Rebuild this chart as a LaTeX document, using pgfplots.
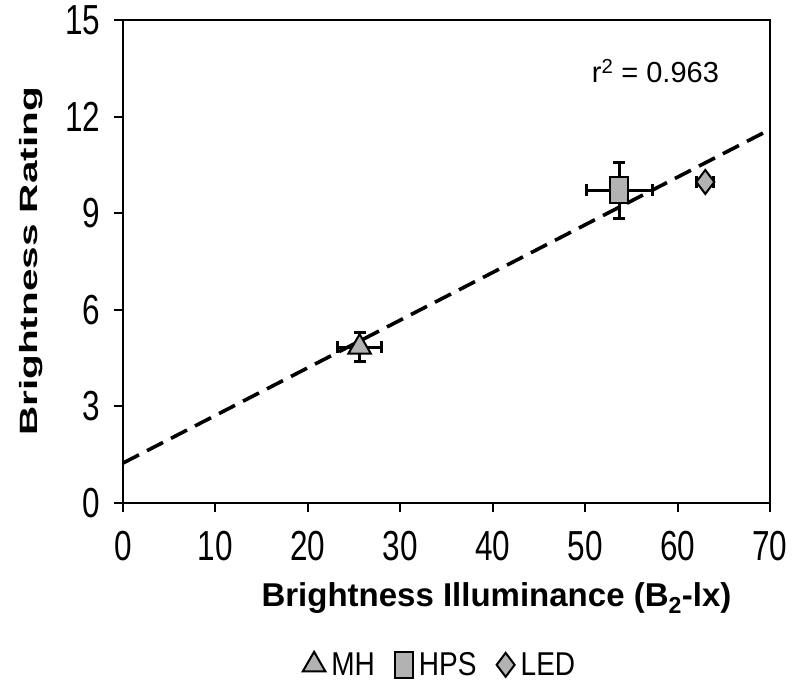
\documentclass[border=0pt]{standalone}
\usepackage{pgfplots}
\pgfplotsset{compat=1.18}
\usepackage{fontspec}
\setmainfont{Liberation Sans}
\newfontfamily\narrowfont[FakeStretch=0.75]{Liberation Sans}
\newfontfamily\legendfont[FakeStretch=0.85]{Liberation Sans}
\newfontfamily\widefont[FakeStretch=1.62]{Liberation Sans}
\definecolor{markgray}{HTML}{B2B2B2}

\pgfplotsset{
  every error bar/.style={line width=3pt, black},
}

\begin{document}
\begin{tikzpicture}
% fixed page frame: 803 x 689
\path[use as bounding box] (-123pt,-186pt) rectangle (680pt,503pt);
\begin{axis}[
  scale only axis,
  width=647pt, height=483pt,
  xmin=0, xmax=70, ymin=0, ymax=15,
  xtick={0,10,...,70}, ytick={0,3,...,15},
  tick align=outside,
  major tick length=9pt,
  axis line style={line width=2.2pt},
  every tick/.style={black, line width=2pt},
  xtick pos=bottom, ytick pos=left,
  /pgf/number format/assume math mode=true,
  ticklabel style={font=\narrowfont\fontsize{42}{42}\selectfont},
  xticklabel style={yshift=-16pt},
  yticklabel style={xshift=-10pt},
  xlabel={\bfseries\fontsize{33}{33}\selectfont Brightness Illuminance (B$_{\mathbf 2}$-lx)},
  ylabel={\widefont\bfseries\fontsize{25}{25}\selectfont Brightness Rating},
  xlabel style={yshift=-14pt, xshift=50pt},
  ylabel style={yshift=16pt},
  legend columns=3,
  legend style={draw=none, at={(0.49,-0.335)}, anchor=center,
    font=\legendfont\fontsize{33}{33}\selectfont,
    /tikz/every odd column/.append style={column sep=4pt},
    /tikz/every even column/.append style={column sep=18pt}},
  legend cell align=left,
]
% regression line
\addplot[black, line width=3.6pt, dash pattern=on 18pt off 9pt, forget plot]
  coordinates {(0,1.24) (70,11.6)};

% MH
\addplot[only marks, black, line width=3pt, mark=triangle*, mark size=13pt,
  mark options={fill=markgray, draw=black, line width=2pt},
  error bars/.cd, x dir=both, x explicit, y dir=both, y explicit,
  error bar style={line width=3pt, black},
  error mark options={rotate=90, mark size=6pt, line width=3pt}]
  coordinates {(25.6,4.84) +- (2.4,0.44)};
\addlegendentry{MH}

% HPS
\addplot[only marks, black, line width=3pt, mark=square*, mark size=9pt,
  mark options={fill=markgray, draw=black, line width=2.2pt, yscale=1.45},
  error bars/.cd, x dir=both, x explicit, y dir=both, y explicit,
  error bar style={line width=3pt, black},
  error mark options={rotate=90, mark size=6pt, line width=3pt}]
  coordinates {(53.7,9.72) +- (3.6,0.87)};
\addlegendentry{HPS}

% LED
\addplot[only marks, black, line width=3pt, mark=diamond*, mark size=12pt,
  mark options={fill=markgray, draw=black, line width=2pt},
  error bars/.cd, x dir=both, x explicit,
  error bar style={line width=3pt, black},
  error mark options={rotate=90, mark size=6pt, line width=3pt}]
  coordinates {(63.0,9.97) +- (0.9,0)};
\addlegendentry{LED}

\node[font=\fontsize{29}{29}\selectfont, inner sep=0pt] at (axis cs:57.6,13.4) {r$^{\mathrm{2}}$ = 0.963};
\end{axis}
\end{tikzpicture}
\end{document}
